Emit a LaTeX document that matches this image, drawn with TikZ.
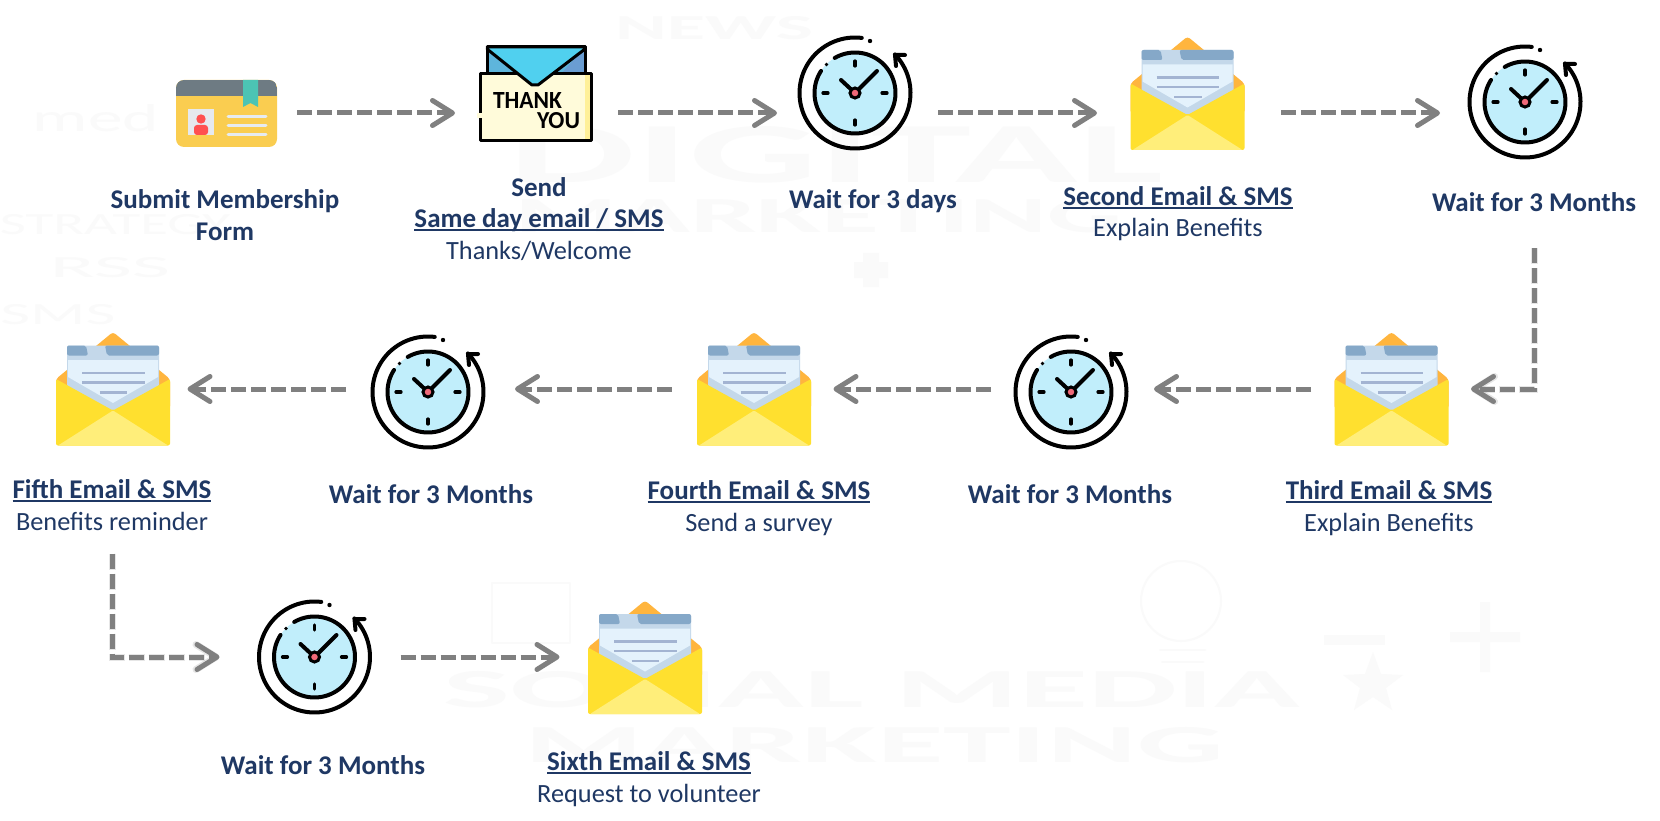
\documentclass[tikz,border=0pt]{standalone}
\usepackage{fontspec}
\usepackage{graphicx}
\setmainfont{Carlito}
\usetikzlibrary{arrows.meta}
\definecolor{txt}{HTML}{1F3864}
\definecolor{flowgray}{HTML}{808080}
\definecolor{wmgray}{HTML}{FAFAFA}
\newcommand{\ulbar}[1]{\setbox0=\hbox{#1}\leavevmode\rlap{\rule[-3.5pt]{\wd0}{2pt}}\box0}
\newcommand{\bd}[1]{{\fontsize{27}{31.5}\selectfont\bfseries #1}}
\tikzset{
  lbl/.style={text=txt,align=center,inner sep=0pt,font=\fontsize{26.3}{31.5}\selectfont},
  iconbox/.style={inner sep=0pt,outer sep=0pt,minimum height=60pt},
  flow/.style={draw=flowgray,line width=5pt,dash pattern=on 15pt off 5pt,
    -{Straight Barb[length=20pt,width=25pt,line width=5pt,round]}},
  flowshadow/.style={draw=black!60,opacity=.16,line width=7pt,dash pattern=on 16pt off 4pt,xshift=1.5pt,yshift=-3.5pt,
    -{Straight Barb[length=20pt,width=25pt,line width=7pt,round]}},
  blk/.style={draw=black,line width=4pt,line cap=round,line join=round},
  wmtext/.style={text=wmgray,inner sep=0pt,font=\bfseries},
  wmline/.style={draw=wmgray,line width=2pt,line join=round,line cap=round},
}
% clock: name, icon centre x, y, box y (row of the arrows)
\newcommand{\clockicon}[4]{%
  \node[iconbox,minimum width=114pt] (#1) at (#2,#4) {};
  \begin{scope}[shift={(#2,#3)}]
    \fill[fill={rgb,255:red,193;green,238;blue,251}] (0,0) circle[radius=40.5pt];
    \draw[blk] plot[domain=-83:-404,samples=90] ({55.5*cos(\x)},{55.5*sin(\x)});
    \draw[blk] (50,-38) -- (40,-38) -- (41,-27);
    \fill[black] (15,-52) circle[radius=2.2pt];
    \draw[blk] plot[domain=-120:213,samples=80] ({40.5*cos(\x)},{40.5*sin(\x)});
    \fill[black] (-28.5,-28.5) circle[radius=1.8pt];
    \draw[blk,line width=3.2pt] (0,-32) -- (0,-27) (0,27) -- (0,32) (-32,0) -- (-27,0) (27,0) -- (32,0);
    \draw[blk] (-14,-13) -- (0,0) -- (22,-22);
    \fill[fill={rgb,255:red,240;green,105;blue,120},draw=black,line width=3pt] (0,0) circle[radius=5pt];
  \end{scope}}
% envelope: name, centre x, y, box y
\newcommand{\envicon}[4]{%
  \node[iconbox,minimum width=113pt] (#1) at (#2,#4) {};
  \begin{scope}[shift={(#2,#3)}]
    \fill[fill={rgb,255:red,255;green,181;blue,62},rounded corners=3pt] (-57,-10) -- (0,-57) -- (57,-10) -- (57,20) -- (-57,20) -- cycle;
    \fill[fill={rgb,255:red,196;green,216;blue,234},rounded corners=2pt] (-46,-43.5) rectangle (46,26);
    \fill[fill={rgb,255:red,133;green,168;blue,200},rounded corners=2pt] (-46,-43.5) -- (-27,-43.5) -- (-25,-33.5) -- (-46,-33.5) -- cycle;
    \fill[fill={rgb,255:red,133;green,168;blue,200},rounded corners=2pt] (-8,-43.5) -- (46,-43.5) -- (46,-33.5) -- (-6,-33.5) -- cycle;
    \fill[fill={rgb,255:red,228;green,242;blue,252}] (-45,-29) -- (45,-29) -- (45,-12) -- (0,14) -- (-45,-12) -- cycle;
    \draw[draw={rgb,255:red,163;green,180;blue,210},line width=2.5pt]
      (-31,-16) -- (31.5,-16) (-31,-6.5) -- (31.5,-6.5) (-13.5,3.5) -- (14,3.5);
    \fill[fill={rgb,255:red,255;green,224;blue,47},rounded corners=2pt] (-57,-10) -- (0,21.5) -- (57,-10) -- (57,56.5) -- (-57,56.5) -- cycle;
    \fill[fill={rgb,255:red,255;green,238;blue,122},rounded corners=1pt] (-55,56.5) -- (0,21.5) -- (55,56.5) -- cycle;
  \end{scope}}
\begin{document}
\begin{tikzpicture}[x=1pt,y=-1pt]
\useasboundingbox (0,0) rectangle (1660,821);
\fill[white] (0,0) rectangle (1660,821);
% faint watermark
\node[wmtext] (wmA) at (836,155) {\resizebox{654pt}{56pt}{DIGITAL}};
\node[wmtext] (wmB) at (819,216) {\resizebox{608pt}{33pt}{MARKETING}};
\node[wmtext] (wmC) at (714,28) {\resizebox{198pt}{23pt}{NEWS}};
\node[wmtext] (wmD) at (872,690) {\resizebox{856pt}{36pt}{SOCIAL MEDIA}};
\node[wmtext] (wmE) at (874,745) {\resizebox{699pt}{35pt}{MARKETING}};
\node[wmtext] (wmF) at (115,225) {\resizebox{230pt}{20pt}{\mdseries STRATEGY}};
\node[wmtext] (wmG) at (110,268) {\resizebox{120pt}{20pt}{\mdseries RSS}};
\node[wmtext] (wmH) at (58,315) {\resizebox{115pt}{20pt}{\mdseries SMS}};
\node[wmtext] (wmI) at (96,118) {\resizebox{126pt}{27pt}{\mdseries med}};
\draw[wmline] (1181,601) circle[radius=40pt];
\draw[wmline] (1160,650) -- (1205,650) (1162,662) -- (1203,662);
\fill[wmgray] (1324,635) rectangle (1385,645);
\fill[wmgray] (1450,632) rectangle (1520,642) (1480,602) rectangle (1490,672);
\fill[wmgray] (854,262) rectangle (888,278) (863,253) rectangle (879,287);
\fill[wmgray] (1373,652) -- (1381,674) -- (1403,675) -- (1386,688) -- (1392,710) -- (1373,697) -- (1354,710) -- (1360,688) -- (1343,675) -- (1365,674) -- cycle;
\draw[wmline] (492,583) rectangle (570,643);
% icons
\node[iconbox,minimum width=101pt] (card) at (226.5,113) {};
\fill[fill={rgb,255:red,250;green,205;blue,80},rounded corners=8pt] (176,80) rectangle (277,147);
\begin{scope}
  \clip[rounded corners=8pt] (176,80) rectangle (277,147);
  \fill[fill={rgb,255:red,110;green,123;blue,131}] (176,80) rectangle (277,96);
\end{scope}
\fill[fill={rgb,255:red,76;green,196;blue,180}] (243,80) -- (258,80) -- (258,107) -- (250.5,103) -- (243,107) -- cycle;
\fill[fill={rgb,255:red,230;green,233;blue,238}] (188,109) rectangle (214,135);
\fill[fill={rgb,255:red,255;green,80;blue,80}] (201,119) circle[radius=4.7pt];
\fill[fill={rgb,255:red,255;green,80;blue,80},rounded corners=3pt] (194,135) -- (194,125) -- (208,125) -- (208,135) -- cycle;
\draw[draw={rgb,255:red,230;green,235;blue,240},line width=3pt,line cap=round]
  (228,117) -- (266,117) (228,126) -- (266,126) (228,135) -- (266,135);
\node[iconbox,minimum width=112pt] (thanks) at (535,113) {};
\fill[fill={rgb,255:red,94;green,181;blue,220}] (487,47) rectangle (585,75);
\fill[fill={rgb,255:red,106;green,157;blue,210}] (585,47) -- (585,75) -- (560,75) -- cycle;
\draw[blk,line width=3pt] (487,47) rectangle (585,75);
\draw[blk,line width=3pt,fill={rgb,255:red,255;green,251;blue,218}] (480,74) rectangle (591,141);
\fill[fill={rgb,255:red,255;green,240;blue,153}] (585,75.5) rectangle (589.5,139.5);
\fill[fill={rgb,255:red,80;green,208;blue,239}] (487,47) -- (585,47) -- (585,49) -- (538,85) -- (532,85) -- (487,49) -- cycle;
\draw[blk,line width=3pt] (487,47) -- (585,47) (487,49) -- (532,85) -- (538,85) -- (585,49);
\fill[fill={rgb,255:red,255;green,251;blue,218}] (477,113) rectangle (482,118);
\node[inner sep=0pt,text=black,font=\bfseries] (thk) at (527.5,100.5) {\resizebox{69pt}{16pt}{THANK}};
\node[inner sep=0pt,text=black,font=\bfseries] (you) at (558.5,120.5) {\resizebox{43pt}{16pt}{YOU}};
\clockicon{clockA}{855}{93}{113}
\envicon{envB}{1187.5}{93.5}{113}
\clockicon{clockB}{1525}{102}{113}
\envicon{envC}{1391.5}{389}{389}
\clockicon{clockC}{1071}{392}{389}
\envicon{envD}{754}{389}{389}
\clockicon{clockD}{428}{392}{389}
\envicon{envE}{113}{389}{389}
\clockicon{clockE}{314.5}{657}{657}
\envicon{envF}{645}{657.5}{657}
% labels
\node[lbl] (lA) at (225,215) {\bd{Submit Membership}\\\bd{Form}};
\node[lbl] (lB) at (539,219) {\bd{Send}\\\bd{\ulbar{Same day email / SMS}}\\Thanks/Welcome};
\node[lbl] (lC) at (873,201) {\bd{Wait for 3 days}};
\node[lbl] (lD) at (1178,213.5) {\bd{\ulbar{Second Email \& SMS}}\\Explain Benefits};
\node[lbl] (lE) at (1534,202.5) {\bd{Wait for 3 Months}};
\node[lbl] (lF) at (1389,508) {\bd{\ulbar{Third Email \& SMS}}\\Explain Benefits};
\node[lbl] (lG) at (1070,494) {\bd{Wait for 3 Months}};
\node[lbl] (lH) at (759,508) {\bd{\ulbar{Fourth Email \& SMS}}\\Send a survey};
\node[lbl] (lI) at (431,494) {\bd{Wait for 3 Months}};
\node[lbl] (lJ) at (112,505) {\bd{\ulbar{Fifth Email \& SMS}}\\Benefits reminder};
\node[lbl] (lK) at (323,765) {\bd{Wait for 3 Months}};
\node[lbl] (lL) at (649,779) {\bd{\ulbar{Sixth Email \& SMS}}\\Request to volunteer};
% connectors
\draw[flow,shorten <=20pt,shorten >=24pt] (card) -- (thanks);
\draw[flow,shorten <=27pt,shorten >=21pt] (thanks) -- (clockA);
\draw[flow,shorten <=26pt,shorten >=34pt] (clockA) -- (envB);
\draw[flow,shorten <=37pt,shorten >=28pt] (envB) -- (clockB);
\draw[flowshadow,shorten <=36pt,shorten >=23pt] (lE.south) |- (envC.east);
\draw[flow,shorten <=36pt,shorten >=23pt] (lE.south) |- (envC.east);
\draw[flow,shorten <=24pt,shorten >=26pt] (envC) -- (clockC);
\draw[flow,shorten <=23pt,shorten >=23pt] (clockC) -- (envD);
\draw[flow,shorten <=26pt,shorten >=30pt] (envD) -- (clockD);
\draw[flow,shorten <=25pt,shorten >=18pt] (clockD) -- (envE);
\draw[flowshadow,shorten <=23pt,shorten >=38pt] (lJ.south) |- (clockE.west);
\draw[flow,shorten <=23pt,shorten >=38pt] (lJ.south) |- (clockE.west);
\draw[flow,shorten <=29pt,shorten >=29pt] (clockE) -- (envF);
\end{tikzpicture}
\end{document}
